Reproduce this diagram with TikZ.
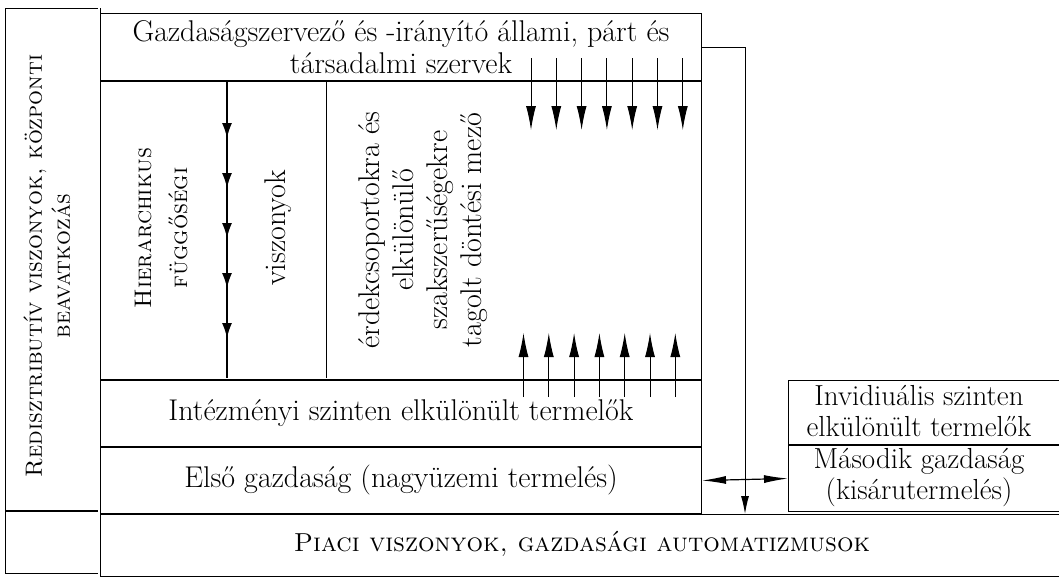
\documentclass[tikz,border=0pt]{standalone}
\usetikzlibrary{positioning, arrows.meta}
\tikzset{cell/.style = {draw, line width=1pt, inner sep=0pt, anchor=north west, align=center, font=\fontsize{30}{32}\selectfont}}
\tikzset{vtext/.style = {rotate=90, align=center, font=\fontsize{30}{34}\selectfont}}
\tikzset{sctext/.style = {rotate=90, align=center, font=\fontsize{23.5}{28}\selectfont}}
\tikzset{tip/.style = {-{Latex[length=24pt, width=10pt]}, line width=1pt}}
\tikzset{hiertip/.style = {-{Latex[length=15pt, width=10pt]}, line width=1.4pt}}
\tikzset{dbltip/.style = {{Latex[length=24pt, width=8pt]}-{Latex[length=24pt, width=8pt]}, line width=1.2pt}}

\begin{document}
\begin{tikzpicture}[x=1pt, y=-1pt]
	\useasboundingbox (0,0) rectangle (1059,576);
	% Redistributive column
	\node [cell, minimum width=93pt, minimum height=502pt] (redist) at (5,8) {};
	\node [sctext] (redist-txt) at (47,266) {\textsc{Redisztributív viszonyok, központi}\\\textsc{beavatkozás}};
	\node [cell, minimum width=93pt, minimum height=62pt, below=0pt of redist.south west, anchor=north west] (corner) {};
	% Top: organising bodies
	\node [cell, minimum width=601pt, minimum height=67pt] (gazd) at (100,13) {Gazdaságszervező és -irányító állami, párt és\\társadalmi szervek};
	% Decision field
	\node [cell, minimum width=601pt, minimum height=298pt, below=0pt of gazd.south west, anchor=north west] (field) {};
	\coordinate (div1-top) at (227,80);
	\coordinate (div1-bot) at (227,378);
	\coordinate (div2-top) at (326,80);
	\coordinate (div2-bot) at (326,378);
	\draw [line width=1pt] (div2-top) -- (div2-bot);
	\draw [line width=1.4pt] (div1-top) -- (div1-bot);
	\foreach \y [count=\i] in {138,188,238,288,338} {
		\coordinate (hier-\i) at (227,\y);
		\draw [hiertip] ([yshift=30pt]hier-\i) -- (hier-\i);
	}
	\node [sctext, font=\fontsize{24}{36}\selectfont] (hier) at (161,228) {\textsc{Hierarchikus}\\\textsc{függőségi}};
	\node [vtext] (visz) at (278,228) {viszonyok};
	\node [vtext] (mezo) at (423,230) {érdekcsoportokra és\\elkülönülő\\szakszerűségekre\\tagolt döntési mező};
	% Institutional producers
	\node [cell, minimum width=601pt, minimum height=66pt, below=0pt of field.south west, anchor=north west] (intez) {Intézményi szinten elkülönült termelők};
	% First economy
	\node [cell, minimum width=601pt, minimum height=66pt, below=0pt of intez.south west, anchor=north west] (elso) {Első gazdaság (nagyüzemi termelés)};
	% Market relations
	\node [cell, minimum width=970pt, minimum height=62pt, below=0pt of elso.south west, anchor=north west] (piaci) {};
	\node [font=\fontsize{26}{30}\selectfont] (piaci-txt) at (582,544) {\textsc{Piaci viszonyok, gazdasági automatizmusok}};
	\draw [line width=0.9pt, double, double distance=1.2pt] (redist.north east) -- (corner.south east);
	% Individual producers, second economy
	\node [cell, minimum width=280pt, minimum height=64pt] (invid) at (788,380) {};
	\node [font=\fontsize{29}{31}\selectfont, align=center] (invid-txt) at (919,411) {Invidiuális szinten\\elkülönült termelők};
	\node [cell, minimum width=280pt, minimum height=66pt, below=0pt of invid.south west, anchor=north west] (masodik) {};
	\node [font=\fontsize{29}{31}\selectfont, align=center] (masodik-txt) at (919,478) {Második gazdaság\\(kisárutermelés)};
	% Arrows down from the bodies, up from the producers
	\foreach \i in {0,...,6} {
		\coordinate (dn-s\i) at (531+25.3*\i,58);
		\coordinate (dn-e\i) at (531+25.3*\i,130);
		\draw [tip] (dn-s\i) -- (dn-e\i);
		\coordinate (up-s\i) at (523.5+25.3*\i,397);
		\coordinate (up-e\i) at (523.5+25.3*\i,333);
		\draw [tip] (up-s\i) -- (up-e\i);
	}
	% Link to the market
	\coordinate (link-x) at (745,0);
	\coordinate (bend) at (gazd.east -| link-x);
	\draw [-{Latex[length=18pt, width=8pt]}, line width=1pt] (gazd.east) -- (bend) -- (bend |- piaci.north);
	\draw [dbltip] (elso.east) -- (masodik.west);
\end{tikzpicture}
\end{document}
